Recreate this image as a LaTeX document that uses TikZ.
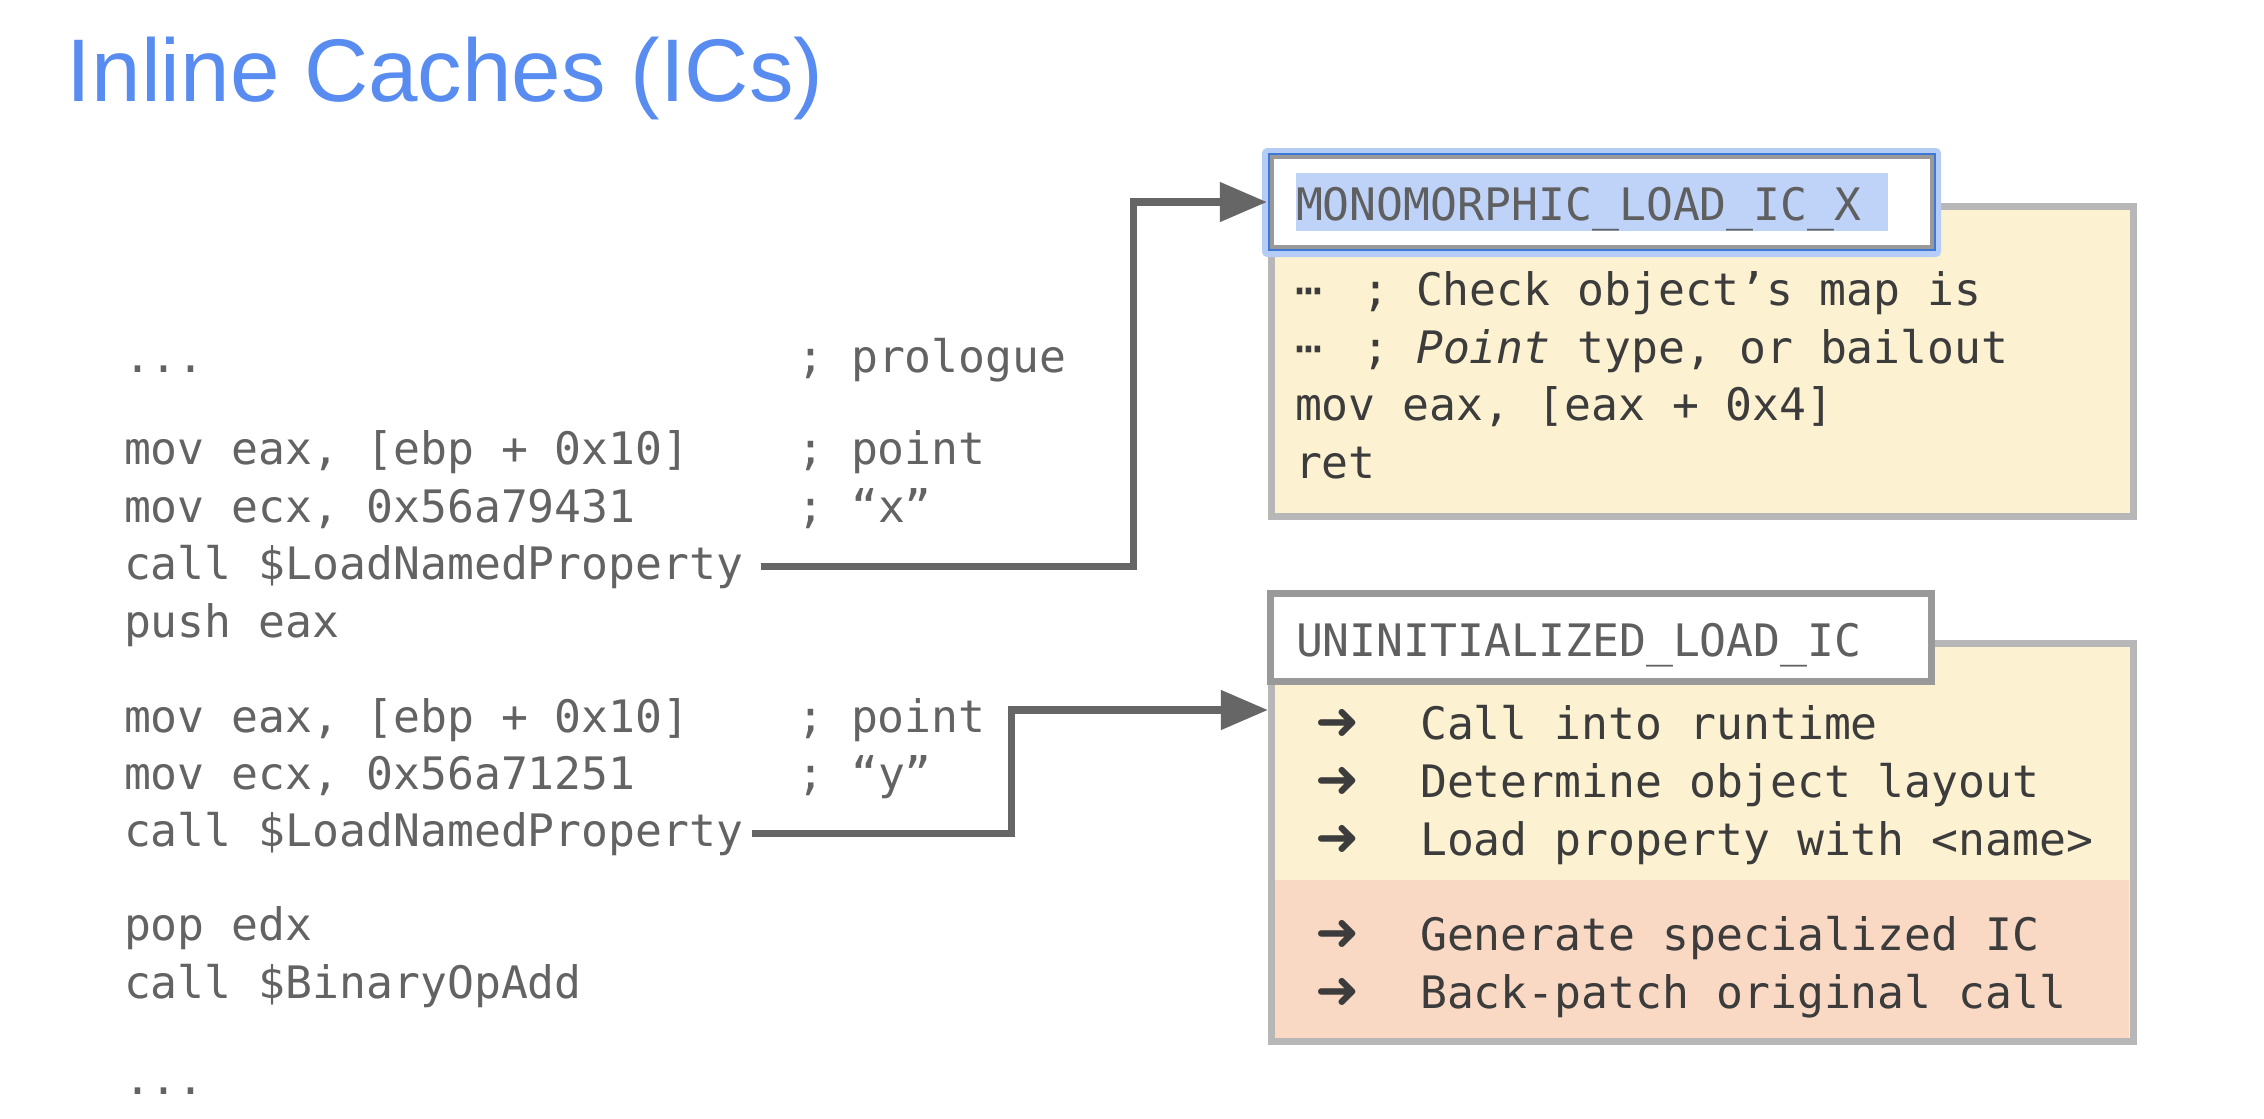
\documentclass[tikz,border=0pt]{standalone}
\usepackage{fontspec}
\usepackage{xcolor}
\usepackage{tikz}
\usetikzlibrary{arrows.meta}
\setmainfont{Liberation Sans}
\setmonofont{DejaVu Sans Mono}
\newfontfamily\symfont{DejaVu Sans}
\definecolor{icBlue}{RGB}{88, 140, 240}
\definecolor{icCode}{RGB}{99, 99, 99}
\definecolor{icText}{RGB}{60, 60, 60}
\definecolor{icHeadText}{RGB}{95, 95, 95}
\definecolor{icLine}{RGB}{102, 102, 102}
\definecolor{icBodyGray}{RGB}{183, 183, 183}
\definecolor{icHeadGray}{RGB}{153, 153, 153}
\definecolor{icCream}{RGB}{252, 241, 208}
\definecolor{icSalmon}{RGB}{249, 217, 196}
\definecolor{icSelect}{RGB}{191, 211, 248}
\definecolor{icFrame}{RGB}{60, 120, 216}
\definecolor{icGlow}{RGB}{180, 204, 246}
\setlength{\fboxsep}{0pt}
\newcommand{\codecmt}[2]{\makebox[15.05em][l]{#1}#2}
\newcommand{\steparrow}{\makebox[1.05cm][l]{{\symfont\fontsize{15}{16}\selectfont\char"279C}}}
\newcommand{\midots}{\makebox[0.9em][l]{⋯}}
\tikzset{
    base/.style={
        inner sep=0,
        outer sep=0
    },
    titletext/.style={
        base,
        anchor=base west,
        font=\fontsize{25.3}{30}\selectfont,
        text=icBlue
    },
    codeline/.style={
        base,
        anchor=base west,
        font=\ttfamily\fontsize{12.72}{16.4}\selectfont,
        text=icCode
    },
    boxline/.style={
        codeline,
        text=icText
    },
    headlabel/.style={
        codeline,
        text=icHeadText
    },
    headbox/.style={
        base,
        anchor=north west,
        draw=icHeadGray,
        line width=0.07cm,
        fill=white
    },
    bodybox/.style={
        base,
        anchor=north west,
        draw=icBodyGray,
        line width=0.07cm,
        fill=icCream
    },
    flow/.style={
        -{Triangle[length=0.47cm, width=0.38cm]},
        line width=0.075cm,
        draw=icLine
    }
}

\begin{document}
\begin{tikzpicture}[x=0.01cm, y=-0.01cm]
  \useasboundingbox (0,0) rectangle (2264,1118);

  \node[titletext] (title) at (67,101) {Inline Caches (ICs)};

  \node[codeline] (prologue) at (124,372) {\codecmt{...}{; prologue}};
  \node[codeline] (loadpt) at (124,464) {\codecmt{mov eax, [ebp + 0x10]}{; point}};
  \node[codeline] (loadx) at (124,522) {\codecmt{mov ecx, 0x56a79431}{; “x”}};
  \node[codeline] (callx) at (124,579) {call \$LoadNamedProperty};
  \node[codeline] (pushx) at (124,637) {push eax};
  \node[codeline] (loadpt2) at (124,732) {\codecmt{mov eax, [ebp + 0x10]}{; point}};
  \node[codeline] (loady) at (124,789) {\codecmt{mov ecx, 0x56a71251}{; “y”}};
  \node[codeline] (cally) at (124,846) {call \$LoadNamedProperty};
  \node[codeline] (popy) at (124,940) {pop edx};
  \node[codeline] (calladd) at (124,998) {call \$BinaryOpAdd};
  \node[codeline] (epilogue) at (124,1094) {...};

  \node[bodybox, minimum width=8.61cm, minimum height=3.10cm] (monobody) at (1271.5,206.5) {};
  \fill[icGlow, rounded corners=0.05cm] (1262,148) rectangle (1941,257);
  \node[headbox, line width=0.04cm, minimum width=6.60cm, minimum height=0.90cm] (monohead) at (1272,157) {};
  \draw[icFrame, line width=0.02cm] (1269,154) rectangle (1935,250);
  \node[headlabel] (monolabel) at (1296,220) {\colorbox{icSelect}{\rule[-0.11cm]{0pt}{0.58cm}MONOMORPHIC\_LOAD\_IC\_X~}};

  \node[boxline] (mono1) at (1295,305) {\midots{} ; Check object’s map is};
  \node[boxline] (mono2) at (1295,363) {\midots{} ; \textit{Point} type, or bailout};
  \node[boxline] (mono3) at (1295,420) {mov eax, [eax + 0x4]};
  \node[boxline] (mono4) at (1295,478) {ret};

  \node[bodybox, minimum width=8.61cm, minimum height=3.98cm] (unibody) at (1271.5,643.5) {};
  \fill[icSalmon] (1275,880) rectangle (2129,1038);
  \node[headbox, minimum width=6.61cm, minimum height=0.88cm] (unihead) at (1270.5,593.5) {};
  \node[headlabel] (unilabel) at (1296,656) {UNINITIALIZED\_LOAD\_IC};

  \node[boxline] (uni1) at (1315,739) {\steparrow Call into runtime};
  \node[boxline] (uni2) at (1315,797) {\steparrow Determine object layout};
  \node[boxline] (uni3) at (1315,855) {\steparrow Load property with <name>};
  \node[boxline] (uni4) at (1315,950) {\steparrow Generate specialized IC};
  \node[boxline] (uni5) at (1315,1008) {\steparrow Back-patch original call};

  \coordinate (uniin) at (1268,710);

  \draw[flow, shorten <=0.18cm, shorten >=0.05cm] (callx.east) -- ++(390,0) |- (monohead.west);
  \draw[flow, shorten <=0.09cm] (cally.east) -- ++(268,0) |- (uniin);
\end{tikzpicture}
\end{document}
